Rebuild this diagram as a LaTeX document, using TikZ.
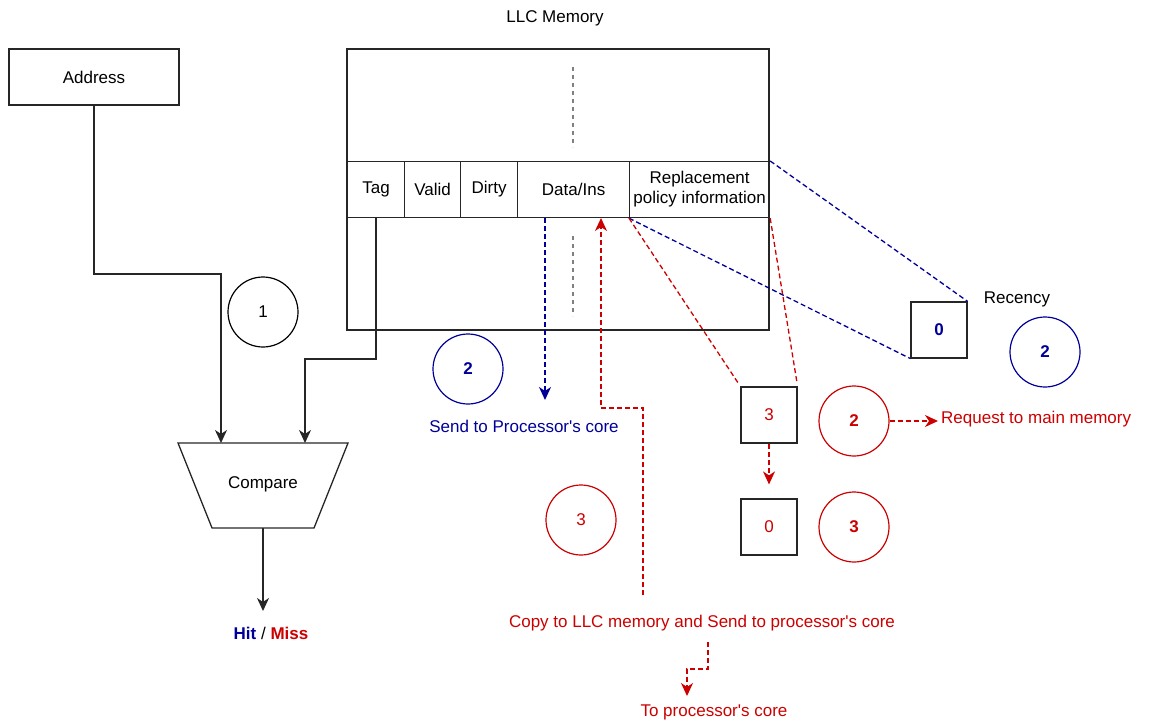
\documentclass[tikz,border=0pt]{standalone}
\usepackage{fontspec}
\setmainfont{Liberation Sans}
\usetikzlibrary{arrows.meta,calc}
\definecolor{dblue}{HTML}{000099}
\definecolor{dred}{HTML}{CC0000}
\newcommand{\apos}{\textquotesingle}

\begin{document}
\begin{tikzpicture}[x=1pt,y=-1pt,
  font=\fontsize{17}{20}\selectfont,
  frame/.style={draw=black!85, line width=1.2pt, inner sep=0pt, align=center},
  cell/.style={frame, minimum height=56pt, anchor=north west},
  sq/.style={frame, minimum size=56pt},
  ring/.style={circle, draw, line width=1.2pt, minimum size=70pt, inner sep=0pt},
  wire/.style={draw=black!85, line width=1.3pt},
  tipA/.style={-{Stealth[length=13pt,width=12pt,inset=4pt]}},
  arr/.style={wire, tipA},
  rdash/.style={draw=dred, line width=1.3pt, dash pattern=on 5pt off 3pt},
  bdash/.style={draw=dblue, line width=1.3pt, dash pattern=on 5pt off 3pt},
  rarr/.style={rdash, tipA},
  barr/.style={bdash, tipA},
  gdash/.style={draw=gray, line width=1.2pt, dash pattern=on 4pt off 4pt}]
\useasboundingbox (0,0) rectangle (1150,722);

% address and cache block
\node[frame, minimum width=170pt, minimum height=56pt] (addr) at (94,77) {Address};
\node (title) at (555,18) {LLC Memory};
\node[frame, minimum width=422pt, minimum height=281pt] (llc) at (558,189.5) {};
\node[cell, minimum width=57pt]  (tag)   at (347,161) {Tag};
\node[cell, minimum width=56pt]  (valid) at (404,161) {Valid};
\node[cell, minimum width=57pt]  (dirty) at (460,161) {Dirty};
\node[cell, minimum width=112pt] (data)  at (517,161) {Data/Ins};
\node[cell, minimum width=140pt] (repl)  at (629,161) {Replacement\\policy information};
\draw[gdash] (573,67) -- (573,147);
\draw[gdash] (573,236) -- (573,316);

% comparator
\coordinate (cTL) at (178,443);
\coordinate (cTR) at (348,443);
\coordinate (cBR) at (314,528);
\coordinate (cBL) at (212,528);
\draw[wire] (cTL) -- (cTR) -- (cBR) -- (cBL) -- cycle;
\node (cmp) at (263,484) {Compare};
\coordinate (cmpA) at (221,443);
\coordinate (cmpB) at (305,443);
\coordinate (cmpOut) at (263,528);
\coordinate (hmTop) at (263,611);
\coordinate (tagOut) at (376,217);
\draw[arr] (addr.south) |- (221,274) -- (cmpA);
\draw[arr] (tagOut) |- (305,359) -- (cmpB);
\draw[arr] (cmpOut) -- (hmTop);
\node (hm) at (271,633) {\textbf{\textcolor{dblue}{Hit}} / \textbf{\textcolor{dred}{Miss}}};
\node[ring] (c1) at (263,312) {1};

% hit path
\node[ring, draw=dblue, text=dblue] (cb2) at (468,369) {\textbf{2}};
\coordinate (sendTip) at (545,400);
\draw[barr] (data.south -| sendTip) -- (sendTip);
\node[text=dblue] (send) at (524,426) {Send to Processor\apos s core};

% recency update
\node[sq, text=dblue] (b0) at (939,330) {\textbf{0}};
\node (rec) at (1017,299) {Recency};
\node[ring, draw=dblue, text=dblue] (cb2r) at (1045,352) {\textbf{2}};
\draw[bdash] (repl.north east) -- (b0.north east);
\draw[bdash] (repl.south west) -- (b0.south west);

% miss path
\node[sq, text=dred] (r3) at (769,415) {3};
\node[sq, text=dred] (r0) at (769,527) {0};
\node[ring, draw=dred, text=dred] (cr2) at (854,421) {\textbf{2}};
\node[ring, draw=dred, text=dred] (cr3b) at (854,527) {\textbf{3}};
\node[ring, draw=dred, text=dred] (cr3) at (581,520) {3};
\draw[rdash, shorten >=4pt] (repl.south west) -- (r3.north west);
\draw[rdash, shorten >=4pt] (repl.south east) -- (r3.north east);
\draw[rarr, shorten >=14pt] (r3.south) -- (r0.north);
\node[text=dred, anchor=west, inner sep=0pt] (req) at (941,419) {Request to main memory};
\draw[rarr, shorten >=3pt] (cr2.east) -- (cr2.east -| req.west);

\node[text=dred] (copy) at (702,623) {Copy to LLC memory and Send to processor\apos s core};
\coordinate (cpStart) at (643,595);
\coordinate (dataIn) at (601,218);
\draw[rarr] (cpStart) |- (601,408) -- (dataIn);
\coordinate (cpOut) at (708,642);
\coordinate (tocTip) at (687,696);
\draw[rarr] (cpOut) |- (687,669) -- (tocTip);
\node[text=dred] (toc) at (714,712) {To processor\apos s core};
\end{tikzpicture}
\end{document}
